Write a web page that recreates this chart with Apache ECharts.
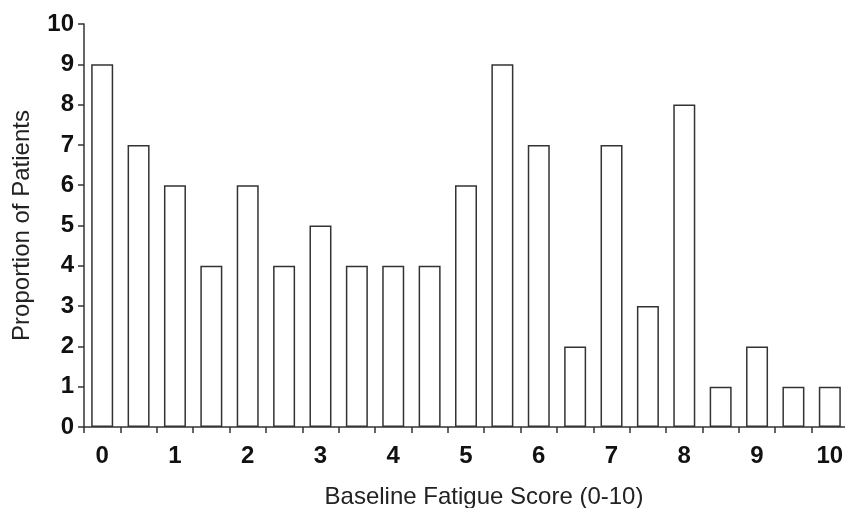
<!DOCTYPE html>
<html><head><meta charset="utf-8">
<script src="https://cdn.jsdelivr.net/npm/echarts@6/dist/echarts.min.js"></script>
<style>html,body{margin:0;padding:0;background:#fff}#c{width:845px;height:508px}</style>
</head><body><div id="c"></div>
<script>
const categories = ['0','0.5','1','1.5','2','2.5','3','3.5','4','4.5','5','5.5','6','6.5','7','7.5','8','8.5','9','9.5','10'];
const values = [9,7,6,4,6,4,5,4,4,4,6,9,7,2,7,3,8,1,2,1,1];
const yTicks = [0,1,2,3,4,5,6,7,8,9,10];
const chart = echarts.init(document.getElementById('c'));
chart.setOption({
  animation:false,
  backgroundColor:'#fff',
  grid:{left:84,right:-3,top:24,bottom:81,containLabel:false,outerBoundsMode:'none'},
  xAxis:{type:'category',data:categories,boundaryGap:true,
    name:'Baseline Fatigue Score (0-10)',nameLocation:'middle',nameGap:58,nameMoveOverlap:false,
    nameTextStyle:{fontFamily:'Liberation Sans',fontSize:24,color:'#222',padding:[0,0,0,36]},
    axisLine:{lineStyle:{color:'#333',width:1.5}},
    axisTick:{show:true,interval:0,length:6,lineStyle:{color:'#333',width:1.5}},
    axisLabel:{interval:1,margin:17,fontFamily:'Liberation Sans',fontWeight:'bold',fontSize:24,color:'#111'}},
  yAxis:{type:'value',min:yTicks[0],max:yTicks[yTicks.length-1],interval:1,
    name:'Proportion of Patients',nameLocation:'middle',nameGap:50,nameMoveOverlap:false,
    nameTextStyle:{fontFamily:'Liberation Sans',fontSize:24,color:'#222'},
    axisLine:{show:true,lineStyle:{color:'#333',width:1.5}},
    axisTick:{show:true,length:6,lineStyle:{color:'#333',width:1.5}},
    splitLine:{show:false},
    axisLabel:{margin:10,fontFamily:'Liberation Sans',fontWeight:'bold',fontSize:24,color:'#111'}},
  series:[{type:'bar',data:values,barWidth:22,
    itemStyle:{color:'#fff',borderColor:'#333',borderWidth:1.5}}]
});
</script></body></html>
